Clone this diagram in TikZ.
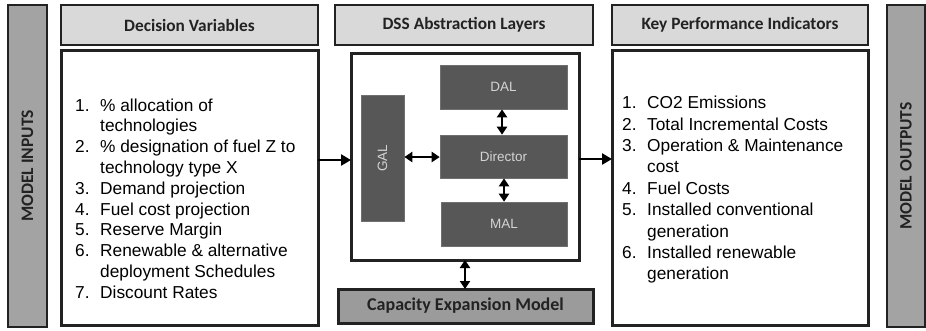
\documentclass[tikz,border=0pt]{standalone}
\usepackage{fontspec}
\setmainfont{Liberation Sans}
\newfontfamily\headfont{Carlito}
\usetikzlibrary{arrows.meta,calc}

\definecolor{headgray}{HTML}{D9D9D9}
\definecolor{bargray}{HTML}{A3A3A3}
\definecolor{layergray}{HTML}{575757}
\definecolor{layertext}{HTML}{D4D4D4}
\definecolor{inkdark}{HTML}{222222}

\newcommand{\itm}[1]{\makebox[25pt][l]{#1}}
\newcommand{\cont}{\hspace*{25pt}}

\begin{document}
\begin{tikzpicture}[x=1pt,y=-1pt,
  box/.style={draw=inkdark,line width=#1,inner sep=0pt,outer sep=0pt},
  box/.default=2.6pt,
  header/.style={box=2.4pt,fill=headgray,text=inkdark,
    font={\headfont\bfseries\fontsize{17.3}{20}\selectfont}},
  sidebar/.style={box=2.6pt,fill=bargray,text=inkdark,
    font={\headfont\bfseries\fontsize{17.5}{20}\selectfont}},
  layer/.style={fill=layergray,draw=layergray!85!white,line width=0.6pt,
    text=layertext,inner sep=0pt,font={\fontsize{13.5}{15}\selectfont}},
  listtext/.style={anchor=north west,inner sep=0pt,align=left,text=black},
  flow/.style={line width=2.8pt,draw=black,
    -{Triangle[length=10pt,width=11pt]}},
  twoway/.style={line width=2.8pt,draw=black,
    {Triangle[length=8pt,width=10pt]}-{Triangle[length=8pt,width=10pt]}}
]
\useasboundingbox (0,0) rectangle (926,330);

% side bars
\node[sidebar,minimum width=39pt,minimum height=322pt] (inputs) at (27.5,166)
  {\rotatebox{90}{MODEL INPUTS}};
\node[sidebar,minimum width=38pt,minimum height=322pt] (outputs) at (906,166)
  {\rotatebox{90}{MODEL OUTPUTS}};

% column headers
\node[header,minimum width=257pt,minimum height=40pt] (dvhead) at (189.5,25) {Decision Variables};
\node[header,minimum width=258pt,minimum height=40pt] (dsshead) at (464,25) {DSS Abstraction Layers};
\node[header,minimum width=256pt,minimum height=40pt] (kpihead) at (740,25) {Key Performance Indicators};

% decision variables
\node[box=3pt,fill=white,minimum width=257pt,minimum height=275pt] (dv) at (189.5,187.5) {};
\node[listtext,font={\fontsize{17.3}{20.8}\selectfont}] (dvlist) at (75,98.4) {%
  \itm{1.}\% allocation of\\
  \cont technologies\\
  \itm{2.}\% designation of fuel Z to\\
  \cont technology type X\\
  \itm{3.}Demand projection\\
  \itm{4.}Fuel cost projection\\
  \itm{5.}Reserve Margin\\
  \itm{6.}Renewable \& alternative\\
  \cont deployment Schedules\\
  \itm{7.}Discount Rates};

% key performance indicators
\node[box=3pt,fill=white,minimum width=256pt,minimum height=275pt] (kpi) at (740,187.5) {};
\node[listtext,font={\fontsize{17.3}{21.4}\selectfont}] (kpilist) at (622,96) {%
  \itm{1.}CO2 Emissions\\
  \itm{2.}Total Incremental Costs\\
  \itm{3.}Operation \& Maintenance\\
  \cont cost\\
  \itm{4.}Fuel Costs\\
  \itm{5.}Installed conventional\\
  \cont generation\\
  \itm{6.}Installed renewable\\
  \cont generation};

% abstraction layers
\node[box=3pt,fill=white,minimum width=228pt,minimum height=207pt] (dss) at (465,156.5) {};
\node[layer,minimum width=43pt,minimum height=126pt] (gal) at (382.5,158) {\rotatebox{90}{GAL}};
\node[layer,minimum width=127pt,minimum height=44pt] (dal) at (503.5,87) {DAL};
\node[layer,minimum width=127pt,minimum height=43pt] (director) at (503.5,156.5) {Director};
\node[layer,minimum width=126pt,minimum height=44pt] (mal) at (504,224) {MAL};

\node[box=3pt,fill=bargray!95!black,text=inkdark,minimum width=255pt,minimum height=34pt,
  font={\headfont\bfseries\fontsize{18}{20}\selectfont}] (cem) at (465.5,306) {Capacity Expansion Model};

% connectors
\draw[flow] (dv.east |- 0,160) -- (dss.west |- 0,160);
\draw[flow] (dss.east |- 0,159) -- (kpi.west |- 0,159);
\draw[twoway] (gal.east |- 0,157) -- (director.west |- 0,157);
\draw[twoway] (dal.south -| 502,0) -- (director.north -| 502,0);
\draw[twoway] (director.south -| 504,0) -- (mal.north -| 504,0);
\draw[twoway] (dss.south -| 465,0) -- (cem.north -| 465,0);
\end{tikzpicture}
\end{document}
